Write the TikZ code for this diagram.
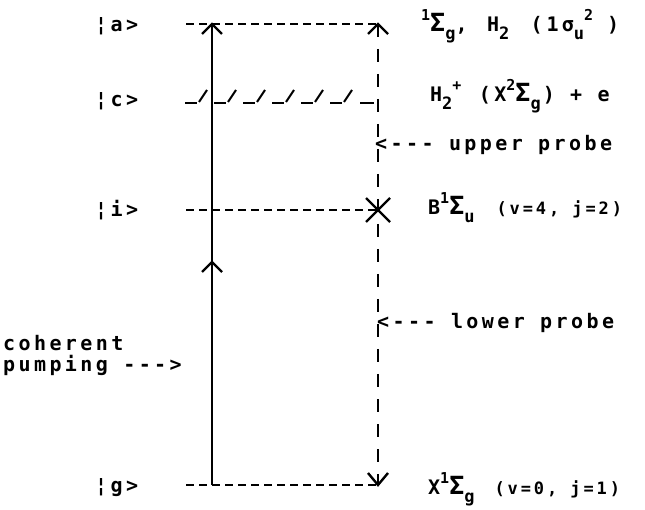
\documentclass[tikz,border=0pt]{standalone}
\usepackage{fontspec}
\newfontfamily\tw[LetterSpace=17]{DejaVu Sans Mono}
\newcommand\upr[1]{\raisebox{0.55em}{\fontsize{15}{15}\selectfont #1}}
\newcommand\dnr[1]{\raisebox{-0.4em}{\fontsize{17}{17}\selectfont #1}}
\newcommand\Sig{{\fontsize{25}{25}\selectfont Σ}}
\newcommand\smf{\fontsize{17}{19}\selectfont}
\tikzset{
  txt/.style={anchor=base west, inner sep=0pt, font=\tw\bfseries\fontsize{20}{22}\selectfont},
  hdash/.style={line width=2pt, dash pattern=on 8pt off 5pt},
  vdash/.style={line width=2pt, dash pattern=on 13pt off 12pt},
  solidln/.style={line width=2.2pt},
  hatch/.style={line width=2pt},
  chevup/.pic={\draw[line width=2.4pt, solid] (-10,10) -- (0,0) -- (10,10);},
  chevdn/.pic={\draw[line width=2.4pt, solid] (-10,-12) -- (0,0) -- (10,-12);},
  chevx/.pic={\draw[line width=2.4pt, solid] (-12,-12) -- (0,0) -- (12,-12) (-12,12) -- (0,0) -- (12,12);}
}
\begin{document}
\begin{tikzpicture}[x=1pt,y=-1pt]
\fill[white] (0,0) rectangle (645,510);
\useasboundingbox (0,0) rectangle (645,510);
% coordinates
\coordinate (a0) at (186,24);
\coordinate (aL) at (212,24);
\coordinate (aR) at (378,24);
\coordinate (i0) at (186,210);
\coordinate (iR) at (378,210);
\coordinate (g0) at (186,485);
\coordinate (gL) at (212,485);
\coordinate (gR) at (378,485);
\coordinate (mid) at (212,262);
% levels
\draw[hdash] (a0) -- (aR);
\draw[hdash] (i0) -- (iR);
\draw[hdash] (g0) -- (gR);
% continuum level c (hatched)
\foreach \x in {185,214,243,272,301,330}{
  \draw[hatch] (\x,103) -- ++(12,0);
  \draw[hatch] (\x+14,102) -- ++(8,-12);
}
\draw[hatch] (360,103) -- (374,103);
% coherent pumping
\draw[solidln] (gL) -- (aL);
\pic at (aL) {chevup};
\pic at (mid) {chevup};
% probes
\draw[vdash] (aR) -- (gR);
\pic at (aR) {chevup};
\pic at (iR) {chevx};
\pic at (gR) {chevdn};
% kets
\node[txt] (ka) at (95,32) {¦a>};
\node[txt] (kc) at (95,107) {¦c>};
\node[txt] (ki) at (95,217) {¦i>};
\node[txt] (kg) at (95,492) {¦g>};
% state labels
\node[txt] (la) at (421,32) {\upr{1}\Sig\dnr{g},\hspace{4pt} H\dnr{2}\hspace{6pt} (\hspace{4pt}1\hspace{3pt}σ\dnr{u}\upr{2}\hspace{14pt})};
\node[txt] (lc) at (430,102) {H\dnr{2}\upr{+}\hspace{2pt} (X\upr{2}\Sig\dnr{g}\hspace{2pt}) + e};
\node[txt] (li) at (428,215) {B\upr{1}\Sig\dnr{u}\hspace{22pt}{\smf (v=4, j=2)}};
\node[txt] (lg) at (428,494) {X\upr{1}\Sig\dnr{g}\hspace{20pt}{\smf (v=0, j=1)}};
% probe labels
\node[txt] (up) at (375,151) {<--- upper probe};
\node[txt] (lp) at (377,329) {<--- lower probe};
\node[txt] (coh) at (3,351) {coherent};
\node[txt] (pump) at (3,371) {pumping --->};
\end{tikzpicture}
\end{document}
